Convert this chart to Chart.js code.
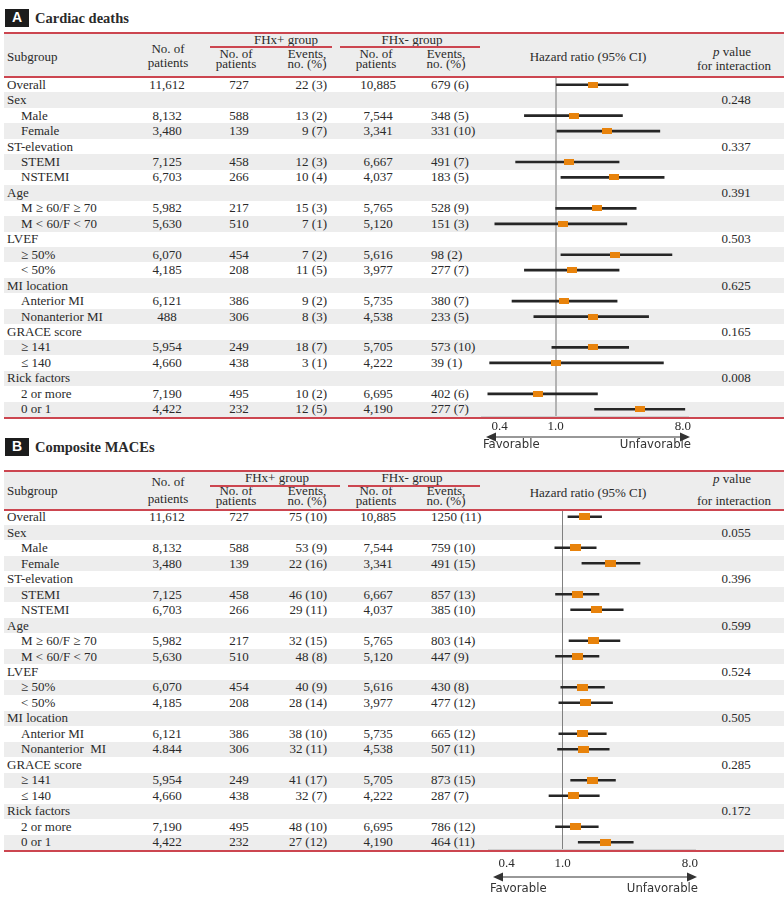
<!DOCTYPE html>
<html lang="en">
<head>
  <meta charset="UTF-8" />
  <title>Cardiac deaths / Composite MACEs</title>
  <script src="https://cdn.jsdelivr.net/npm/chart.js"></script>
  <style>
    * { margin: 0; padding: 0; box-sizing: border-box; }
    body {
      background: #fff;
      width: 784px;
      height: 902px;
      overflow: hidden;
      font-family: 'Liberation Serif', 'Times New Roman', serif;
      font-size: 13px;
      color: #2a2a2a;
    }
    #page { position: relative; width: 784px; height: 902px; }
    .t { position: absolute; white-space: pre; height: 16px; line-height: 16px; }
    .c { text-align: center; width: 140px; }
    .r { text-align: right; width: 100px; }
    .bg { position: absolute; left: 4px; width: 780px; background: #ededed; }
    .rule { position: absolute; height: 2px; background: #cc4650; z-index: 5; }
    .badge {
      position: absolute; left: 5px; width: 24px; height: 18px;
      background: #1c1c1c; color: #fff; text-align: center; line-height: 18px;
      font: bold 14px 'Liberation Sans', Arial, sans-serif;
    }
    .title { position: absolute; left: 35px; font-weight: bold; font-size: 14.5px; line-height: 18px; }
    canvas { position: absolute; z-index: 3; }
  </style>
</head>
<body>
<div id="page">
  <canvas id="forestA" width="240" height="380" style="left:470px; top:77px;"></canvas>
  <canvas id="forestB" width="240" height="389" style="left:477px; top:509px;"></canvas>
</div>

<script>
  // ---- data ----
  const rowLabels = ['Overall', 'Sex', 'Male', 'Female', 'ST-elevation', 'STEMI', 'NSTEMI', 'Age',
    'M \u2265 60/F \u2265 70', 'M < 60/F < 70', 'LVEF', '\u2265 50%', '< 50%', 'MI location',
    'Anterior MI', 'Nonanterior MI', 'GRACE score', '\u2265 141', '\u2264 140', 'Rick factors',
    '2 or more', '0 or 1'];
  const groupRows = [1, 4, 7, 10, 13, 16, 19];
  const tickVals = [0.4, 1.0, 8.0];

  // A. Cardiac deaths
  const cdTotal = ['11,612', '', '8,132', '3,480', '', '7,125', '6,703', '', '5,982', '5,630', '', '6,070', '4,185', '', '6,121', '488', '', '5,954', '4,660', '', '7,190', '4,422'];
  const cdPosN = ['727', '', '588', '139', '', '458', '266', '', '217', '510', '', '454', '208', '', '386', '306', '', '249', '438', '', '495', '232'];
  const cdPosEv = ['22 (3)', '', '13 (2)', '9 (7)', '', '12 (3)', '10 (4)', '', '15 (3)', '7 (1)', '', '7 (2)', '11 (5)', '', '9 (2)', '8 (3)', '', '18 (7)', '3 (1)', '', '10 (2)', '12 (5)'];
  const cdNegN = ['10,885', '', '7,544', '3,341', '', '6,667', '4,037', '', '5,765', '5,120', '', '5,616', '3,977', '', '5,735', '4,538', '', '5,705', '4,222', '', '6,695', '4,190'];
  const cdNegEv = ['679 (6)', '', '348 (5)', '331 (10)', '', '491 (7)', '183 (5)', '', '528 (9)', '151 (3)', '', '98 (2)', '277 (7)', '', '380 (7)', '233 (5)', '', '573 (10)', '39 (1)', '', '402 (6)', '277 (7)'];
  const cdP = ['', '0.248', '', '', '0.337', '', '', '0.391', '', '', '0.503', '', '', '0.625', '', '', '0.165', '', '', '0.008', '', ''];
  const cdHR = [1.83, null, 1.35, 2.32, null, 1.24, 2.58, null, 1.95, 1.12, null, 2.62, 1.30, null, 1.15, 1.83, null, 1.83, 1.00, null, 0.75, 3.98];
  const cdLo = [1.01, null, 0.60, 1.02, null, 0.52, 1.09, null, 1.00, 0.37, null, 1.09, 0.60, null, 0.49, 0.70, null, 0.94, 0.34, null, 0.33, 1.89];
  const cdHi = [3.27, null, 2.98, 5.49, null, 2.82, 5.89, null, 3.73, 3.20, null, 6.69, 2.82, null, 2.73, 4.57, null, 3.30, 5.82, null, 1.98, 8.26];

  // B. Composite MACEs
  const mcTotal = ['11,612', '', '8,132', '3,480', '', '7,125', '6,703', '', '5,982', '5,630', '', '6,070', '4,185', '', '6,121', '4.844', '', '5,954', '4,660', '', '7,190', '4,422'];
  const mcPosN = ['727', '', '588', '139', '', '458', '266', '', '217', '510', '', '454', '208', '', '386', '306', '', '249', '438', '', '495', '232'];
  const mcPosEv = ['75 (10)', '', '53 (9)', '22 (16)', '', '46 (10)', '29 (11)', '', '32 (15)', '48 (8)', '', '40 (9)', '28 (14)', '', '38 (10)', '32 (11)', '', '41 (17)', '32 (7)', '', '48 (10)', '27 (12)'];
  const mcNegN = ['10,885', '', '7,544', '3,341', '', '6,667', '4,037', '', '5,765', '5,120', '', '5,616', '3,977', '', '5,735', '4,538', '', '5,705', '4,222', '', '6,695', '4,190'];
  const mcNegEv = ['1250 (11)', '', '759 (10)', '491 (15)', '', '857 (13)', '385 (10)', '', '803 (14)', '447 (9)', '', '430 (8)', '477 (12)', '', '665 (12)', '507 (11)', '', '873 (15)', '287 (7)', '', '786 (12)', '464 (11)'];
  const mcP = ['', '0.055', '', '', '0.396', '', '', '0.599', '', '', '0.524', '', '', '0.505', '', '', '0.285', '', '', '0.172', '', ''];
  const mcHR = [1.43, null, 1.23, 2.18, null, 1.27, 1.73, null, 1.66, 1.28, null, 1.39, 1.46, null, 1.39, 1.40, null, 1.62, 1.19, null, 1.24, 2.00];
  const mcLo = [1.09, null, 0.88, 1.37, null, 0.89, 1.14, null, 1.11, 0.89, null, 0.97, 0.94, null, 0.94, 0.92, null, 1.14, 0.80, null, 0.89, 1.29];
  const mcHi = [1.89, null, 1.73, 3.54, null, 1.81, 2.69, null, 2.55, 1.81, null, 1.98, 2.26, null, 2.04, 2.14, null, 2.37, 1.82, null, 1.79, 3.17];

  const xMin = 0.329, xMax = 8.7;

  // ---- table (html text) ----
  const page = document.getElementById('page');

  function put(text, x, y, align, extra) {
    const d = document.createElement('div');
    d.className = 't' + (align === 'c' ? ' c' : align === 'r' ? ' r' : '');
    let left = x;
    if (align === 'c') left = x - 70;
    if (align === 'r') left = x - 100;
    d.style.left = left + 'px';
    d.style.top = (y - 8) + 'px';
    if (extra) d.innerHTML = text; else d.textContent = text;
    page.appendChild(d);
  }

  function box(cls, l, t, w, h) {
    const d = document.createElement('div');
    d.className = cls;
    d.style.left = l + 'px';
    d.style.top = t + 'px';
    d.style.width = w + 'px';
    if (h != null) d.style.height = h + 'px';
    page.appendChild(d);
    return d;
  }

  function panel(p) {
    const badge = box('badge', 5, p.badgeTop, 24);
    badge.textContent = p.letter;
    const ttl = box('title', 35, p.badgeTop, 300);
    ttl.textContent = p.title;

    box('bg', 4, p.ruleTop, 780, p.headBottom - p.ruleTop);
    const rh = (p.rowsBottom - p.headBottom) / rowLabels.length;
    rowLabels.forEach((_, i) => {
      if (i % 2 === 1) box('bg', 4, p.headBottom + i * rh, 780, rh);
    });
    box('rule', 4, p.ruleTop - 1, 780);
    box('rule', 4, p.headBottom - 1, 780);
    box('rule', 4, p.rowsBottom, 780);
    box('rule', 210, p.underY, p.posLineW);
    box('rule', p.negLineL, p.underY, 480 - p.negLineL);

    p.head.forEach(h => put(h[0], h[1], h[2], h[3], h[4]));

    const labels = p.labels || rowLabels;
    labels.forEach((lab, i) => {
      const y = p.headBottom + (i + 0.5) * rh;
      const grp = i === 0 || groupRows.includes(i);
      put(lab, grp ? 7 : 21, y, 'l');
      put(p.total[i], 167, y, 'c');
      put(p.posN[i], 239, y, 'c');
      put(p.posEv[i], 327, y, 'r');
      put(p.negN[i], 378, y, 'c');
      put(p.negEv[i], 431, y, 'l');
      put(p.pval[i], 736, y, 'c');
    });
  }

  const pItal = '<i>p</i> value';
  panel({
    letter: 'A', title: 'Cardiac deaths', badgeTop: 9,
    ruleTop: 33, headBottom: 77, rowsBottom: 417, underY: 46, posLineW: 122, negLineL: 340,
    total: cdTotal, posN: cdPosN, posEv: cdPosEv, negN: cdNegN, negEv: cdNegEv, pval: cdP,
    head: [
      ['Subgroup', 7, 57, 'l'],
      ['No. of', 168, 49, 'c'], ['patients', 168, 63, 'c'],
      ['FHx+ group', 286, 40, 'c'],
      ['No. of', 236, 54, 'c'], ['patients', 236, 64, 'c'],
      ['Events,', 307, 54, 'c'], ['no. (%)', 307, 64, 'c'],
      ['FHx- group', 412, 40, 'c'],
      ['No. of', 376, 54, 'c'], ['patients', 376, 64, 'c'],
      ['Events,', 446, 54, 'c'], ['no. (%)', 446, 64, 'c'],
      ['Hazard ratio (95% CI)', 588, 57, 'c'],
      [pItal, 732, 52, 'c', true], ['for interaction', 734, 66, 'c']
    ]
  });

  panel({
    letter: 'B', title: 'Composite MACEs', badgeTop: 438,
    ruleTop: 471, headBottom: 509.5, rowsBottom: 850, underY: 485, posLineW: 130, negLineL: 348,
    labels: rowLabels.map((l, i) => i === 15 ? 'Nonanterior  MI' : l),
    total: mcTotal, posN: mcPosN, posEv: mcPosEv, negN: mcNegN, negEv: mcNegEv, pval: mcP,
    head: [
      ['Subgroup', 7, 491, 'l'],
      ['No. of', 168, 482, 'c'], ['patients', 168, 499, 'c'],
      ['FHx+ group', 277, 478, 'c'],
      ['No. of', 236, 491, 'c'], ['patients', 236, 501, 'c'],
      ['Events,', 307, 491, 'c'], ['no. (%)', 307, 501, 'c'],
      ['FHx- group', 412, 478, 'c'],
      ['No. of', 376, 491, 'c'], ['patients', 376, 501, 'c'],
      ['Events,', 446, 491, 'c'], ['no. (%)', 446, 501, 'c'],
      ['Hazard ratio (95% CI)', 588, 493, 'c'],
      [pItal, 732, 479, 'c', true], ['for interaction', 734, 501, 'c']
    ]
  });

  // ---- forest plots ----
  const arrowPlugin = {
    id: 'favorArrow',
    afterDraw(chart) {
      const o = chart.options.plugins.favorArrow;
      const { ctx, chartArea: a } = chart;
      const y = a.bottom + o.arrowDy;
      const x0 = a.left + 4, x1 = a.right + 2;
      ctx.save();
      ctx.strokeStyle = '#333';
      ctx.fillStyle = '#333';
      ctx.lineWidth = 1.2;
      ctx.beginPath();
      ctx.moveTo(x0 + 6, y);
      ctx.lineTo(x1 - 6, y);
      ctx.stroke();
      ctx.beginPath();
      ctx.moveTo(x0, y); ctx.lineTo(x0 + 10, y - 4.5); ctx.lineTo(x0 + 10, y + 4.5); ctx.closePath();
      ctx.fill();
      ctx.beginPath();
      ctx.moveTo(x1, y); ctx.lineTo(x1 - 10, y - 4.5); ctx.lineTo(x1 - 10, y + 4.5); ctx.closePath();
      ctx.fill();
      ctx.font = '13px "Liberation Sans Narrow", "DejaVu Sans Condensed", sans-serif';
      ctx.textBaseline = 'middle';
      ctx.textAlign = 'left';
      ctx.fillText('Favorable', a.left + 1, a.bottom + o.textDy);
      ctx.textAlign = 'right';
      ctx.fillText('Unfavorable', a.right + 3, a.bottom + o.textDy);
      ctx.restore();
    }
  };

  function forest(id, hr, lo, hi, cfg) {
    const sq = document.createElement('canvas');
    sq.width = cfg.sqW;
    sq.height = cfg.sqH;
    const g = sq.getContext('2d');
    g.fillStyle = '#e8830c';
    g.fillRect(0, 0, sq.width, sq.height);

    const ciData = lo.map((v, i) => v == null ? null : [v, hi[i]]);
    const ptData = [];
    hr.forEach((v, i) => { if (v != null) ptData.push({ x: v, y: rowLabels[i] }); });

    return new Chart(document.getElementById(id), {
      type: 'bar',
      data: {
        labels: rowLabels,
        datasets: [
          { type: 'scatter', data: ptData, pointStyle: sq, pointRadius: 5, order: 0 },
          { type: 'bar', data: ciData, backgroundColor: '#262626', borderWidth: 0, barThickness: 2, order: 1 }
        ]
      },
      options: {
        indexAxis: 'y',
        responsive: false,
        animation: false,
        layout: { autoPadding: false, padding: { left: 12, right: 22, top: 0, bottom: cfg.padBottom } },
        plugins: {
          legend: { display: false },
          tooltip: { enabled: false },
          favorArrow: { arrowDy: cfg.arrowDy, textDy: cfg.textDy }
        },
        scales: {
          x: {
            type: 'logarithmic',
            min: xMin,
            max: xMax,
            afterBuildTicks: s => { s.ticks = tickVals.map(v => ({ value: v })); },
            afterFit: s => { s.paddingLeft = 0; s.paddingRight = 0; s.height = cfg.axisH; },
            ticks: {
              callback: v => Number(v).toFixed(1),
              font: { family: "'Liberation Serif', serif", size: 13 },
              color: '#2a2a2a',
              padding: cfg.tickPad,
              autoSkip: false,
              maxRotation: 0
            },
            grid: {
              drawTicks: false,
              lineWidth: cfg.refW,
              color: c => (c.tick && c.tick.value === 1) ? cfg.refColor : 'rgba(0,0,0,0)'
            },
            border: { display: true, color: '#d0d0d0', width: 2 }
          },
          y: { type: 'category', display: false, offset: true, grid: { display: false } }
        }
      },
      plugins: [arrowPlugin]
    });
  }

  forest('forestA', cdHR, cdLo, cdHi, {
    sqW: 10, sqH: 6, padBottom: 22, axisH: 18, tickPad: 2, arrowDy: 20, textDy: 28,
    refW: 2, refColor: '#b3b3b3'
  });
  forest('forestB', mcHR, mcLo, mcHi, {
    sqW: 11, sqH: 7, padBottom: 26, axisH: 22, tickPad: 6, arrowDy: 27, textDy: 39,
    refW: 1, refColor: '#808080'
  });
</script>
</body>
</html>
